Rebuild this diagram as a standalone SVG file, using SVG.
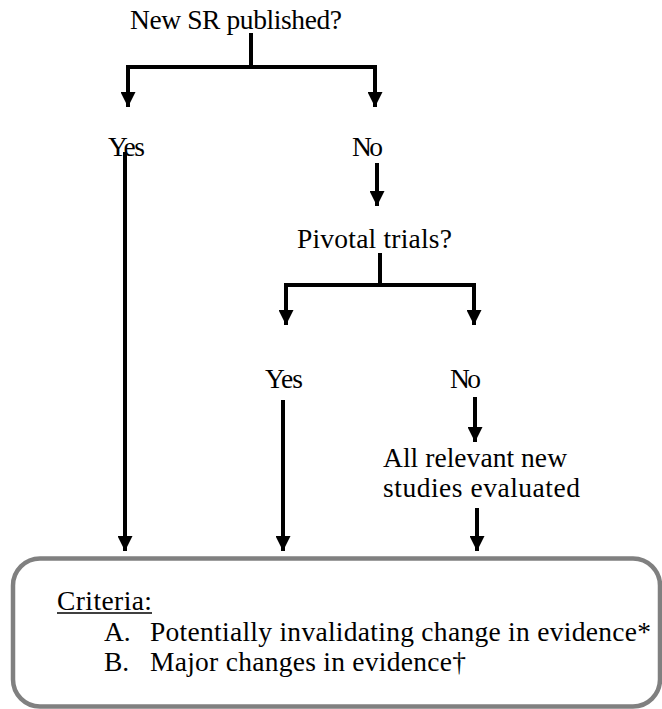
<svg xmlns="http://www.w3.org/2000/svg" width="662" height="709" viewBox="0 0 662 709">
<defs>
<style>
.t{font-family:"Liberation Serif","Times New Roman",serif;font-size:27.5px;fill:#000}
.c{fill:none;stroke:#000;stroke-width:4}
</style>
<marker id="ah" markerUnits="userSpaceOnUse" markerWidth="15" markerHeight="15" refX="15" refY="7.5" orient="auto" viewBox="0 0 15 15">
<path d="M0,0 L15,7.5 L0,15 Z" fill="#000"/>
</marker>
</defs>
<rect width="662" height="709" fill="#fff"/>
<g id="connectors">
<path class="c" d="M251,33 V67"/>
<path class="c" d="M251,67 H128 V107" marker-end="url(#ah)"/>
<path class="c" d="M251,67 H375 V107" marker-end="url(#ah)"/>
<path class="c" d="M125,152 V551" marker-end="url(#ah)"/>
<path class="c" d="M377,163 V206" marker-end="url(#ah)"/>
<path class="c" d="M380,253 V285"/>
<path class="c" d="M380,285 H286 V325" marker-end="url(#ah)"/>
<path class="c" d="M380,285 H474 V325" marker-end="url(#ah)"/>
<path class="c" d="M283,400 V551" marker-end="url(#ah)"/>
<path class="c" d="M475,397 V442" marker-end="url(#ah)"/>
<path class="c" d="M477,508 V551" marker-end="url(#ah)"/>
</g>
<g id="q1"><text class="t" x="130" y="29" textLength="212">New SR published?</text></g>
<g id="yes1"><text class="t" x="108" y="156" textLength="37">Yes</text></g>
<g id="no1"><text class="t" x="352" y="156" textLength="31">No</text></g>
<g id="q2"><text class="t" x="297" y="248" textLength="155">Pivotal trials?</text></g>
<g id="yes2"><text class="t" x="265" y="388" textLength="38">Yes</text></g>
<g id="no2"><text class="t" x="450" y="388" textLength="31">No</text></g>
<g id="studies">
<text class="t" x="383" y="467" textLength="184">All relevant new</text>
<text class="t" x="383" y="497" textLength="197">studies evaluated</text>
</g>
<g id="criteria">
<rect x="13" y="558.5" width="647" height="148" rx="27" ry="27" fill="#fff" stroke="#808080" stroke-width="4.5"/>
<text class="t" x="57" y="610" textLength="95">Criteria:</text>
<line x1="57" y1="613" x2="152" y2="613" stroke="#000" stroke-width="1.6"/>
<text class="t" x="104" y="641">A.</text>
<text class="t" x="150" y="641" textLength="501">Potentially invalidating change in evidence*</text>
<text class="t" x="104" y="671">B.</text>
<text class="t" x="150" y="671" textLength="316">Major changes in evidence†</text>
</g>
</svg>
